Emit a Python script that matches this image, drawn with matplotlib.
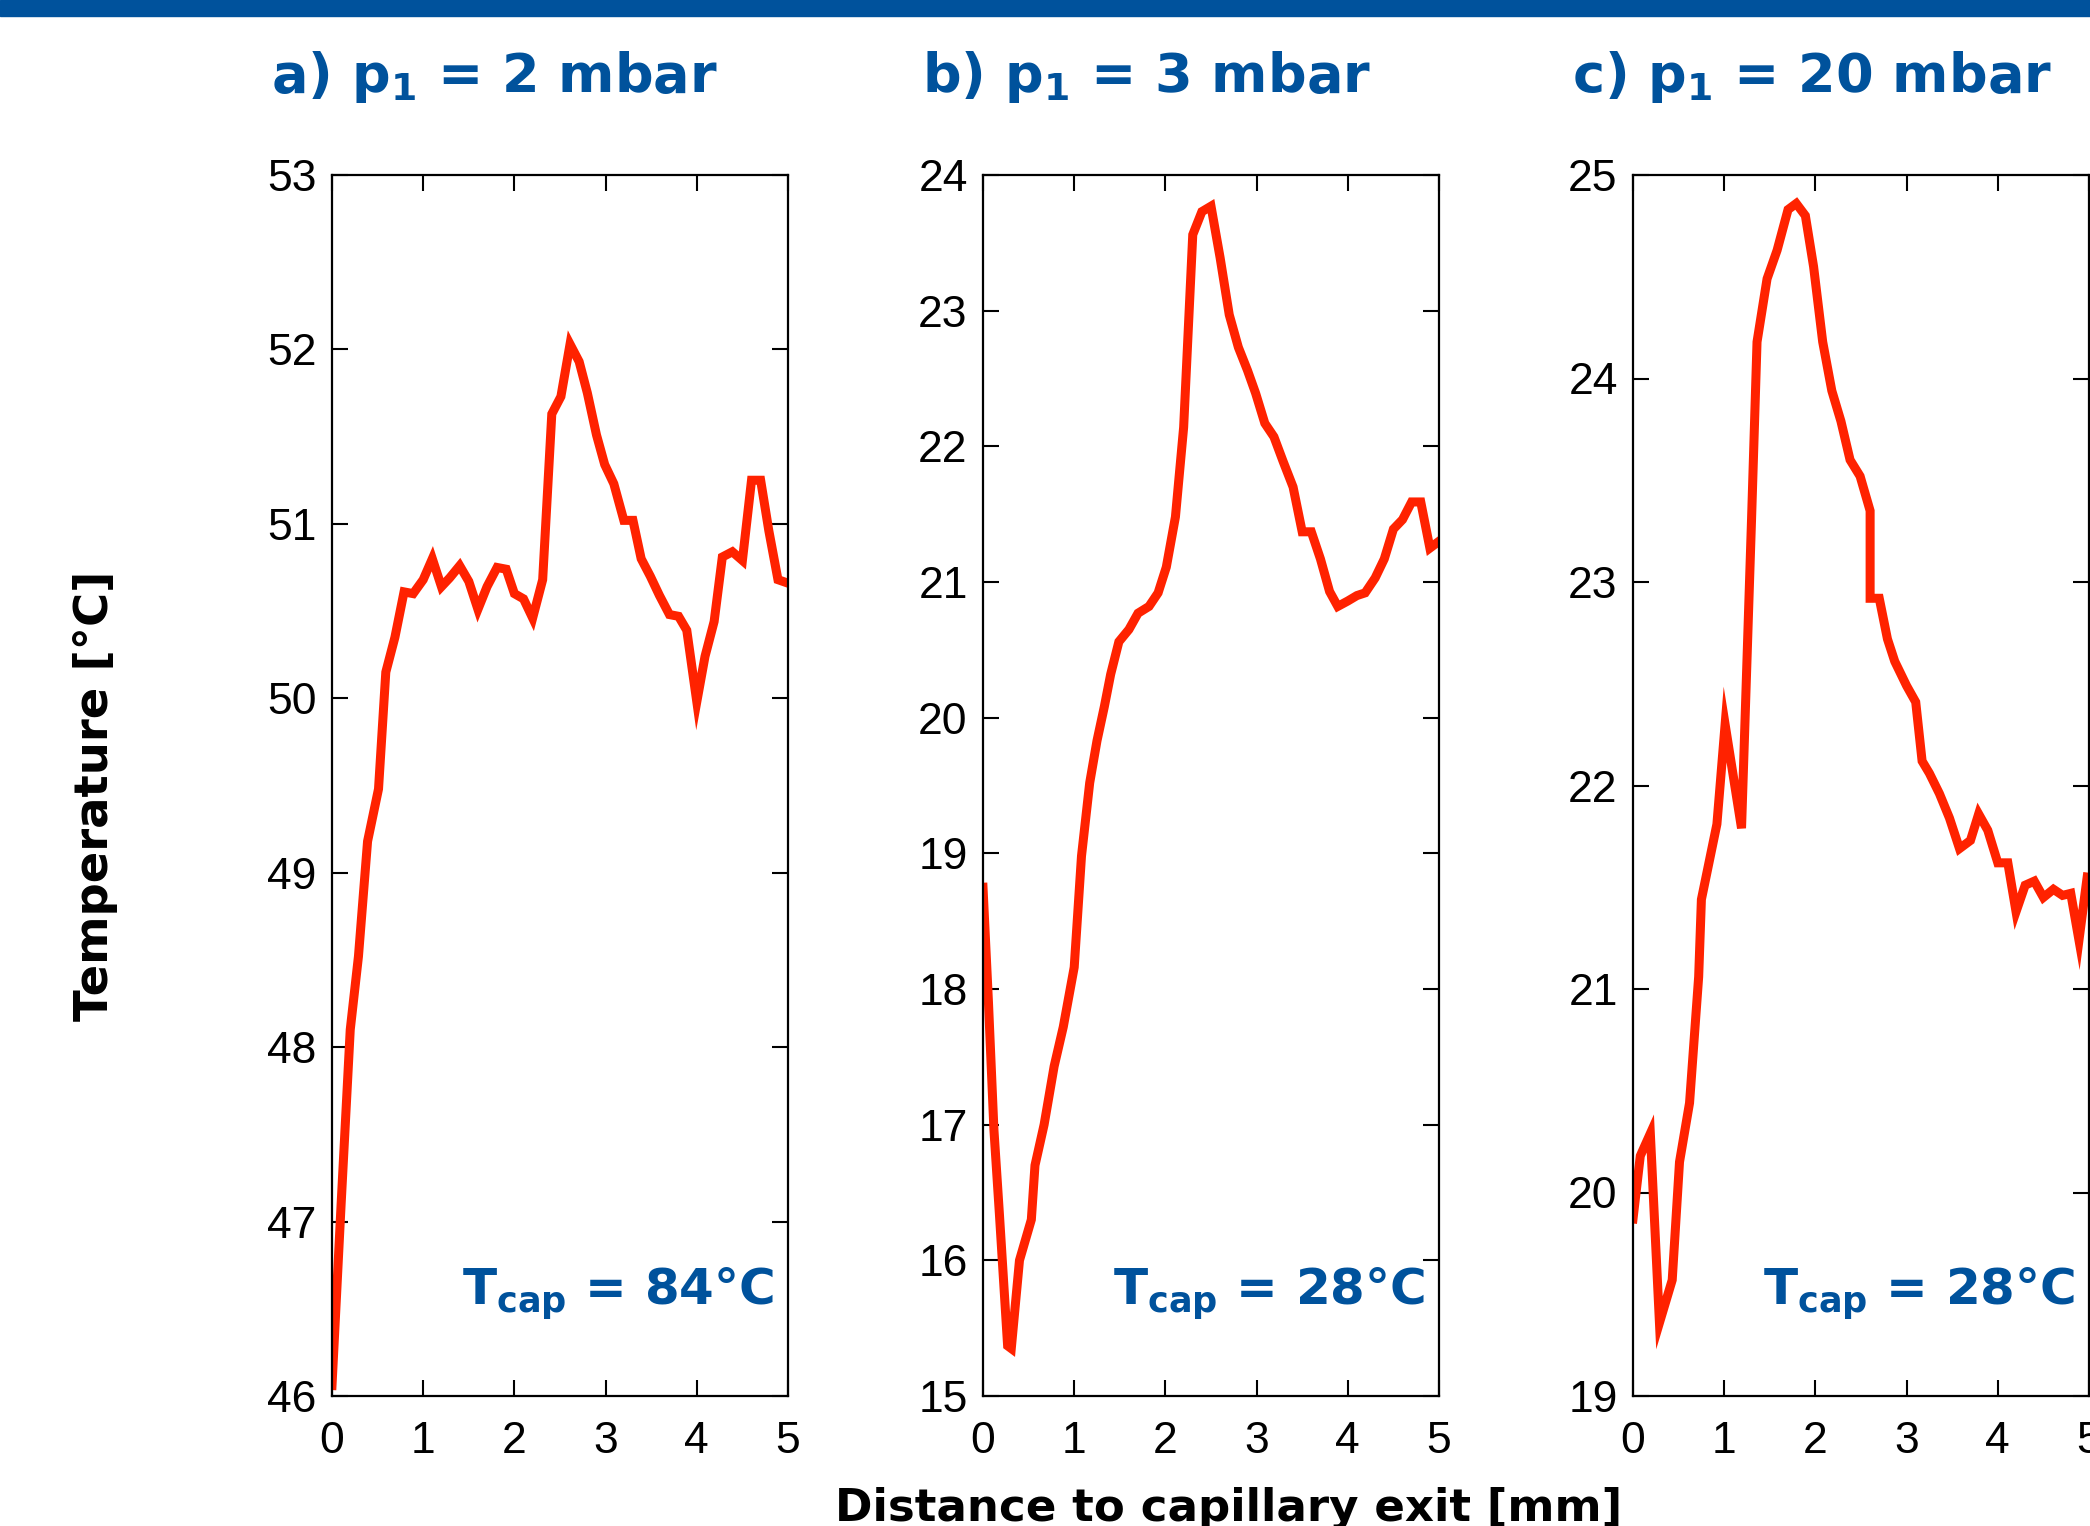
import matplotlib
matplotlib.use("Agg")
import matplotlib.pyplot as plt
from matplotlib.patches import Rectangle

plt.rcParams['mathtext.fontset'] = 'custom'
plt.rcParams['mathtext.rm'] = 'DejaVu Sans:bold'
plt.rcParams['mathtext.bf'] = 'DejaVu Sans:bold'

# panel a) p1 = 2 mbar, Tcap = 84 C
xa = [0.0, 0.1, 0.2, 0.29, 0.39, 0.51, 0.59, 0.69, 0.79, 0.89, 1.0, 1.1, 1.2, 1.29, 1.4,
      1.5, 1.6, 1.7, 1.81, 1.91, 2.0, 2.1, 2.2, 2.31, 2.41, 2.51, 2.61, 2.71, 2.8, 2.9,
      2.99, 3.09, 3.2, 3.3, 3.39, 3.49, 3.59, 3.7, 3.8, 3.89, 4.0, 4.09, 4.19, 4.28, 4.39,
      4.5, 4.6, 4.7, 4.79, 4.89, 5.0]
ya = [46.06, 47.1, 48.1, 48.52, 49.18, 49.48, 50.15, 50.35, 50.61, 50.6, 50.68, 50.8, 50.64,
      50.69, 50.76, 50.67, 50.51, 50.64, 50.75, 50.74, 50.6, 50.57, 50.46, 50.68, 51.63,
      51.73, 52.03, 51.93, 51.75, 51.51, 51.34, 51.23, 51.02, 51.02, 50.8, 50.7, 50.59,
      50.48, 50.47, 50.39, 49.98, 50.24, 50.44, 50.81, 50.84, 50.79, 51.25, 51.25, 50.96,
      50.68, 50.66]

# panel b) p1 = 3 mbar, Tcap = 28 C
xb = [0.0, 0.06, 0.12, 0.18, 0.27, 0.31, 0.4, 0.53, 0.57, 0.67, 0.78, 0.88, 1.0, 1.08, 1.17,
      1.25, 1.33, 1.4, 1.49, 1.6, 1.7, 1.82, 1.92, 2.01, 2.11, 2.2, 2.3, 2.4, 2.5, 2.6,
      2.7, 2.8, 2.9, 2.99, 3.09, 3.19, 3.29, 3.4, 3.5, 3.6, 3.7, 3.8, 3.89, 4.0, 4.1,
      4.19, 4.3, 4.4, 4.5, 4.6, 4.7, 4.8, 4.9, 5.0]
yb = [18.75, 17.9, 16.96, 16.34, 15.37, 15.35, 16.0, 16.3, 16.7, 17.0, 17.43, 17.72, 18.16,
      18.98, 19.52, 19.83, 20.08, 20.32, 20.56, 20.65, 20.77, 20.82, 20.92, 21.11, 21.48,
      22.14, 23.56, 23.73, 23.77, 23.39, 22.97, 22.73, 22.56, 22.39, 22.17, 22.07, 21.89,
      21.7, 21.37, 21.37, 21.17, 20.93, 20.82, 20.86, 20.9, 20.92, 21.03, 21.17, 21.39,
      21.46, 21.59, 21.59, 21.25, 21.3]

# panel c) p1 = 20 mbar, Tcap = 28 C
xc = [0.0, 0.08, 0.19, 0.29, 0.43, 0.51, 0.62, 0.72, 0.75, 0.92, 1.01, 1.19, 1.3, 1.36,
      1.47, 1.58, 1.7, 1.79, 1.89, 1.98, 2.08, 2.18, 2.28, 2.38, 2.49, 2.6, 2.6, 2.7,
      2.79, 2.87, 3.0, 3.1, 3.17, 3.25, 3.36, 3.47, 3.58, 3.7, 3.79, 3.89, 4.0, 4.11,
      4.2, 4.3, 4.4, 4.5, 4.61, 4.71, 4.8, 4.89, 4.98]
yc = [19.87, 20.18, 20.29, 19.36, 19.57, 20.15, 20.44, 21.06, 21.44, 21.81, 22.3, 21.79,
      23.31, 24.18, 24.49, 24.63, 24.83, 24.86, 24.8, 24.55, 24.18, 23.94, 23.79, 23.6,
      23.52, 23.35, 22.92, 22.92, 22.72, 22.61, 22.49, 22.41, 22.12, 22.06, 21.96, 21.84,
      21.69, 21.73, 21.86, 21.78, 21.62, 21.62, 21.38, 21.51, 21.53, 21.45, 21.49, 21.46,
      21.47, 21.24, 21.55]

titles = [r'a) p$_\mathregular{1}$ = 2 mbar', r'b) p$_\mathregular{1}$ = 3 mbar',
          r'c) p$_\mathregular{1}$ = 20 mbar']
tcaps = [r'T$_\mathregular{cap}$ = 84°C', r'T$_\mathregular{cap}$ = 28°C',
         r'T$_\mathregular{cap}$ = 28°C']
ylims = [(46, 53), (15, 24), (19, 25)]

blue = '#00529c'
W, H = 2090, 1526
fig = plt.figure(figsize=(W / 100, H / 100), dpi=100)
fig.patches.append(Rectangle((0, 1 - 16 / H), 1, 16 / H, transform=fig.transFigure,
                             color=blue, zorder=0))

lefts = [332, 983, 1633]
top, bottom, width = 175, 1396, 456
data = [(xa, ya), (xb, yb), (xc, yc)]

for i in range(3):
    ax = fig.add_axes([lefts[i] / W, (H - bottom) / H, width / W, (bottom - top) / H])
    x, y = data[i]
    ax.plot(x, y, color='#ff2200', lw=6.5, solid_joinstyle='miter')
    ax.set_xlim(0, 5)
    ax.set_ylim(*ylims[i])
    ax.set_xticks(range(6))
    ax.set_yticks(range(ylims[i][0], ylims[i][1] + 1))
    ax.tick_params(direction='in', top=True, right=True, length=11.5, width=1.5,
                   labelsize=32, colors='black')
    ax.tick_params(axis='x', pad=18)
    ax.tick_params(axis='y', pad=11)
    for lab in ax.get_xticklabels() + ax.get_yticklabels():
        lab.set_fontfamily('Liberation Sans')
    for s in ax.spines.values():
        s.set_linewidth(1.6)
    fig.text((lefts[i] - 61) / W, 1 - 92 / H, titles[i], color=blue, fontsize=39,
             fontweight='bold', family='DejaVu Sans', ha='left', va='baseline')
    ax.text(0.97, 0.075, tcaps[i], transform=ax.transAxes, color=blue, fontsize=36,
            fontweight='bold', family='DejaVu Sans', ha='right', va='baseline')

fig.text(96 / W, 1 - 796 / H, 'Temperature [°C]', rotation=90, fontsize=33.5,
         fontweight='bold', family='DejaVu Sans', ha='center', va='center')
fig.text(1229 / W, 1 - 1508 / H, 'Distance to capillary exit [mm]', fontsize=32.5,
         fontweight='bold', family='DejaVu Sans', ha='center', va='center')

fig.savefig('out.png', dpi=100)
